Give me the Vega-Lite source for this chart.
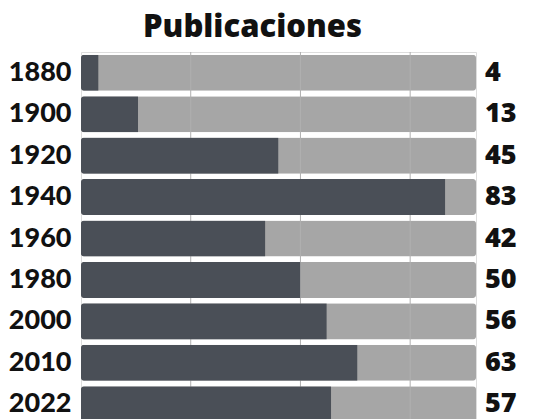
{
  "$schema": "https://vega.github.io/schema/vega-lite/v6.json",
  "width": 395,
  "height": 373,
  "autosize": {"type": "none"},
  "padding": {"left": 81, "top": 52, "right": 57, "bottom": 0},
  "background": "white",
  "title": {"text": "Publicaciones", "font": "Open Sans", "fontSize": 31, "fontWeight": 800, "color": "#111111", "anchor": "middle", "dx": -26, "offset": 8},
  "data": {"values": [
    {"year": "1880", "value": 4, "total": 90},
    {"year": "1900", "value": 13, "total": 90},
    {"year": "1920", "value": 45, "total": 90},
    {"year": "1940", "value": 83, "total": 90},
    {"year": "1960", "value": 42, "total": 90},
    {"year": "1980", "value": 50, "total": 90},
    {"year": "2000", "value": 56, "total": 90},
    {"year": "2010", "value": 63, "total": 90},
    {"year": "2022", "value": 57, "total": 90}
  ]},
  "encoding": {
    "y": {"field": "year", "type": "nominal", "sort": null,
      "scale": {"paddingInner": 0.13, "paddingOuter": 0.065},
      "axis": {"title": null, "domain": false, "ticks": false, "labelPadding": 10, "labelFont": "Lato", "labelFontWeight": 900, "labelFontSize": 27, "labelColor": "#111111"}}
  },
  "layer": [
    {
      "mark": {"type": "bar", "color": "#a6a6a6", "cornerRadius": 3},
      "encoding": {"x": {"field": "total", "type": "quantitative", "scale": {"domain": [0, 90], "nice": false}, "axis": null}}
    },
    {
      "data": {"values": [{"g": 25}, {"g": 50}, {"g": 75}]},
      "mark": {"type": "rule", "color": "#b0b0b0", "strokeWidth": 1},
      "encoding": {"x": {"field": "g", "type": "quantitative"}, "y": null}
    },
    {
      "mark": {"type": "bar", "color": "#4a4f57", "cornerRadiusTopLeft": 3, "cornerRadiusBottomLeft": 3},
      "encoding": {"x": {"field": "value", "type": "quantitative"}}
    },
    {
      "mark": {"type": "text", "align": "left", "dx": 9, "font": "Open Sans", "fontWeight": 800, "fontSize": 27, "color": "#111111"},
      "encoding": {"x": {"field": "total", "type": "quantitative"}, "text": {"field": "value", "type": "quantitative"}}
    }
  ]
}
